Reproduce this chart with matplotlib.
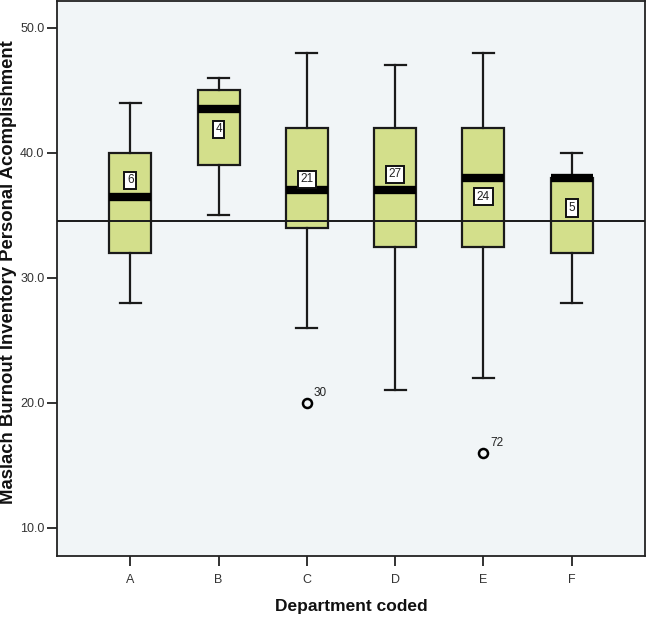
import matplotlib
matplotlib.use("Agg")
import matplotlib.pyplot as plt

plt.rcParams['font.family'] = ['Liberation Sans', 'DejaVu Sans']

# ---- data ----
departments = ["A", "B", "C", "D", "E", "F"]
whisker_low = [28, 35, 26, 21, 22, 28]
q1 = [32, 39, 34, 32.5, 32.5, 32]
median = [36.5, 43.5, 37, 37, 38, 38]
q3 = [40, 45, 42, 42, 42, 38]
whisker_high = [44, 46, 48, 47, 48, 40]
counts = [6, 4, 21, 27, 24, 5]
count_label_y = [37.8, 41.9, 37.9, 38.3, 36.5, 35.6]
outlier_dept = ["C", "E"]
outlier_values = [20, 16]
outlier_ids = ["30", "72"]
reference_line = 34.56

fig = plt.figure(figsize=(6.47, 6.17), dpi=100)
ax = fig.add_axes([0.0881, 0.0989, 0.9088, 0.8995])
ax.set_facecolor("#f1f5f7")

positions = list(range(1, len(departments) + 1))
stats = []
for i in range(len(departments)):
    stats.append(dict(whislo=whisker_low[i], q1=q1[i], med=median[i],
                      q3=q3[i], whishi=whisker_high[i], fliers=[]))

ax.bxp(stats, positions=positions, widths=0.475, patch_artist=True,
       showfliers=False,
       boxprops=dict(facecolor="#d3df8b", edgecolor="#1a1a1a", linewidth=1.6),
       medianprops=dict(color="black", linewidth=6, solid_capstyle="butt"),
       whiskerprops=dict(color="#1a1a1a", linewidth=1.6),
       capprops=dict(color="#1a1a1a", linewidth=1.6),
       capwidths=0.235, zorder=2)

ax.axhline(reference_line, color="#1a1a1a", linewidth=1.4, zorder=3)

for pos, n, ly in zip(positions, counts, count_label_y):
    ax.text(pos, ly, str(n), ha="center", va="center", fontsize=8.5,
            color="#222222", zorder=5,
            bbox=dict(boxstyle="square,pad=0.22", facecolor="white",
                      edgecolor="#111111", linewidth=1.4))

for d, v, oid in zip(outlier_dept, outlier_values, outlier_ids):
    x = departments.index(d) + 1
    ax.plot([x], [v], marker="o", markersize=6.5, markerfacecolor="none",
            markeredgecolor="black", markeredgewidth=1.8, zorder=4)
    ax.annotate(oid, (x, v), xytext=(5, 5), textcoords="offset points",
                fontsize=8.5, color="#222222")

ax.set_xlim(0.17, 6.83)
ax.set_ylim(7.76, 52.16)
ax.set_xticks(positions)
ax.set_xticklabels(departments)
ax.set_yticks([10, 20, 30, 40, 50])
ax.set_yticklabels(["10.0", "20.0", "30.0", "40.0", "50.0"])
ax.tick_params(axis="both", direction="out", length=7, width=1.3,
               color="#222222", labelsize=9, labelcolor="#333333", pad=2)
ax.tick_params(axis="x", pad=6)

for s in ax.spines.values():
    s.set_color("#222222")
    s.set_linewidth(1.3)

ax.set_xlabel("Department coded", fontsize=12.5, fontweight="bold",
              color="#111111", labelpad=9)
ax.set_ylabel("Maslach Burnout Inventory Personal Acomplishment", fontsize=13.3,
              fontweight="bold", color="#111111", va="center")
ax.yaxis.set_label_coords(-0.083, 0.512)

fig.savefig("out.png", dpi=100)
